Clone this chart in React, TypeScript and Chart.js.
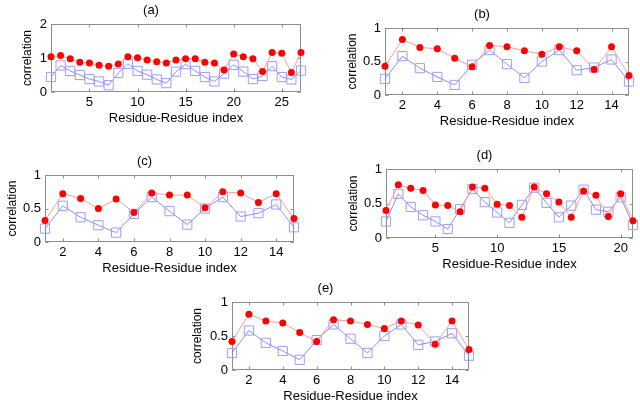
import React, { useEffect, useRef } from "react";
import { Chart, registerables } from "chart.js";

Chart.register(...registerables);

const FONT = "'Liberation Sans', Arial, Helvetica, sans-serif";

// ---- data ----
const indexA = [1, 2, 3, 4, 5, 6, 7, 8, 9, 10, 11, 12, 13, 14, 15, 16, 17, 18, 19, 20, 21, 22, 23, 24, 25, 26, 27];
const redA = [1.04, 1.07, 0.98, 0.875, 0.85, 0.79, 0.76, 0.82, 1.04, 1.01, 0.94, 0.89, 0.85, 0.94, 0.98, 0.98, 0.875, 0.85, 0.65, 1.12, 1.04, 0.98, 0.6, 1.16, 1.14, 0.57, 1.16];
const blueA = [0.44, 0.78, 0.62, 0.5, 0.38, 0.31, 0.2, 0.56, 0.83, 0.62, 0.51, 0.37, 0.26, 0.6, 0.82, 0.62, 0.44, 0.31, 0.54, 0.8, 0.6, 0.38, 0.47, 0.76, 0.44, 0.37, 0.63];

const indexB = [1, 2, 3, 4, 5, 6, 7, 8, 9, 10, 11, 12, 13, 14, 15];
const redB = [0.43, 0.83, 0.71, 0.69, 0.55, 0.42, 0.74, 0.72, 0.66, 0.61, 0.72, 0.66, 0.38, 0.72, 0.29];
const blueB = [0.24, 0.58, 0.4, 0.27, 0.15, 0.45, 0.67, 0.46, 0.255, 0.5, 0.67, 0.37, 0.41, 0.53, 0.2];

const indexC = [1, 2, 3, 4, 5, 6, 7, 8, 9, 10, 11, 12, 13, 14, 15];
const redC = [0.32, 0.72, 0.65, 0.5, 0.64, 0.44, 0.73, 0.7, 0.7, 0.51, 0.75, 0.73, 0.59, 0.72, 0.35];
const blueC = [0.2, 0.54, 0.37, 0.25, 0.14, 0.42, 0.67, 0.46, 0.26, 0.5, 0.67, 0.38, 0.43, 0.56, 0.22];

const indexD = [1, 2, 3, 4, 5, 6, 7, 8, 9, 10, 11, 12, 13, 14, 15, 16, 17, 18, 19, 20, 21];
const redD = [0.4, 0.77, 0.72, 0.69, 0.48, 0.47, 0.38, 0.74, 0.72, 0.49, 0.47, 0.3, 0.74, 0.64, 0.52, 0.3, 0.68, 0.62, 0.31, 0.64, 0.25];
const blueD = [0.24, 0.64, 0.45, 0.33, 0.24, 0.13, 0.42, 0.71, 0.52, 0.37, 0.22, 0.48, 0.73, 0.51, 0.3, 0.47, 0.7, 0.41, 0.38, 0.59, 0.19];

const indexE = [1, 2, 3, 4, 5, 6, 7, 8, 9, 10, 11, 12, 13, 14, 15];
const redE = [0.42, 0.82, 0.72, 0.69, 0.55, 0.42, 0.74, 0.72, 0.67, 0.61, 0.72, 0.66, 0.38, 0.72, 0.3];
const blueE = [0.25, 0.58, 0.4, 0.28, 0.15, 0.44, 0.67, 0.46, 0.25, 0.5, 0.67, 0.37, 0.42, 0.54, 0.21];

const xTicksA = [5, 10, 15, 20, 25];
const xTicksB = [2, 4, 6, 8, 10, 12, 14];
const xTicksD = [5, 10, 15, 20];
const yTicksA = [0, 1, 2];
const yTicksB = [0, 0.5, 1];

const X_TITLE = "Residue-Residue index";
const Y_TITLE = "correlation";

// ---- layout ----
const YW = 50; // y-axis width
const XH = 36; // x-axis height
const TH = 22; // title height
const RP = 6; // right padding

type Box = { L: number; R: number; T: number; B: number };

type PanelProps = {
  title: string;
  idx: number[];
  red: number[];
  blue: number[];
  xTicks: number[];
  yTicks: number[];
  ymax: number;
  box: Box;
  yTitleOff: number;
};

const framePlugin = {
  id: "frameBox",
  beforeDatasetsDraw(chart: any) {
    const { ctx, chartArea: a, scales } = chart;
    ctx.save();
    ctx.strokeStyle = "#8c8c8c";
    ctx.lineWidth = 1;
    const l = Math.round(a.left) + 0.5;
    const r = Math.round(a.right) - 0.5;
    const t = Math.round(a.top) + 0.5;
    const b = Math.round(a.bottom) - 0.5;
    ctx.strokeRect(l, t, r - l, b - t);
    const tl = 3;
    ctx.beginPath();
    for (const tk of scales.x.ticks) {
      const px = Math.round(scales.x.getPixelForValue(tk.value)) + 0.5;
      ctx.moveTo(px, b);
      ctx.lineTo(px, b - tl);
      ctx.moveTo(px, t);
      ctx.lineTo(px, t + tl);
    }
    for (const tk of scales.y.ticks) {
      const py = Math.round(scales.y.getPixelForValue(tk.value)) + 0.5;
      ctx.moveTo(l, py);
      ctx.lineTo(l + tl, py);
      ctx.moveTo(r, py);
      ctx.lineTo(r - tl, py);
    }
    ctx.stroke();
    ctx.restore();
  },
};

function Panel(p: PanelProps) {
  const ref = useRef<HTMLCanvasElement | null>(null);
  const { box } = p;
  const w = YW + (box.R - box.L) + RP;
  const h = TH + (box.B - box.T) + XH;

  useEffect(() => {
    if (!ref.current) return;
    const chart = new Chart(ref.current, {
      type: "line",
      data: {
        datasets: [
          {
            data: p.idx.map((x, i) => ({ x, y: p.red[i] })),
            borderColor: "#ff9c9c",
            borderWidth: 1,
            pointBackgroundColor: "#ff0000",
            pointBorderColor: "#ff0000",
            pointBorderWidth: 0,
            pointRadius: 3.5,
            pointStyle: "circle",
            tension: 0,
            clip: false,
          } as any,
          {
            data: p.idx.map((x, i) => ({ x, y: p.blue[i] })),
            borderColor: "#8c8cf2",
            borderWidth: 1,
            pointBackgroundColor: "rgba(0,0,0,0)",
            pointBorderColor: "#9c9cfa",
            pointBorderWidth: 1,
            pointRadius: 6.5,
            pointStyle: "rect",
            tension: 0,
            clip: false,
          } as any,
        ],
      },
      options: {
        responsive: false,
        animation: false,
        events: [],
        layout: { padding: { left: 0, top: 0, right: RP, bottom: 0 }, autoPadding: false },
        plugins: {
          legend: { display: false },
          tooltip: { enabled: false },
          title: {
            display: true,
            text: p.title,
            color: "#000",
            font: { family: FONT, size: 13, weight: "normal", lineHeight: 1 },
            padding: { top: 2, bottom: 7 },
          },
        },
        scales: {
          x: {
            type: "linear",
            min: p.idx[0],
            max: p.idx[p.idx.length - 1],
            grid: { display: false, drawTicks: false },
            border: { display: false },
            ticks: {
              color: "#000",
              font: { family: FONT, size: 13 },
              padding: 3,
              maxRotation: 0,
              autoSkip: false,
              callback: (v: any) => String(v),
            },
            afterBuildTicks: (s: any) => {
              s.ticks = p.xTicks.map((v) => ({ value: v }));
            },
            afterFit: (s: any) => {
              s.height = XH;
            },
            title: {
              display: true,
              text: X_TITLE,
              color: "#000",
              font: { family: FONT, size: 13, lineHeight: 1.2 },
              padding: { top: 0, bottom: 2.2 },
            },
          },
          y: {
            type: "linear",
            min: 0,
            max: p.ymax,
            grid: { display: false, drawTicks: false },
            border: { display: false },
            ticks: {
              color: "#000",
              font: { family: FONT, size: 13 },
              padding: 4,
              callback: (v: any) => String(v),
            },
            afterBuildTicks: (s: any) => {
              s.ticks = p.yTicks.map((v) => ({ value: v }));
            },
            afterFit: (s: any) => {
              s.width = YW;
            },
            title: {
              display: true,
              text: Y_TITLE,
              color: "#000",
              font: { family: FONT, size: 12, lineHeight: 1.2 },
              padding: { top: YW - p.yTitleOff - 7.2, bottom: 0 },
            },
          },
        },
      } as any,
      plugins: [framePlugin],
    });
    return () => chart.destroy();
  }, []);

  return (
    <canvas
      ref={ref}
      width={w}
      height={h}
      style={{
        position: "absolute",
        left: box.L - YW,
        top: box.T - TH,
        width: w,
        height: h,
      }}
    />
  );
}

export default function App() {
  return (
    <div
      style={{
        position: "absolute",
        left: 0,
        top: 0,
        width: 640,
        height: 406,
        overflow: "hidden",
        background: "#fff",
      }}
    >
      <Panel title="(a)" idx={indexA} red={redA} blue={blueA} xTicks={xTicksA} yTicks={yTicksA} ymax={2}
        box={{ L: 51, R: 301, T: 24, B: 92 }} yTitleOff={23} />
      <Panel title="(b)" idx={indexB} red={redB} blue={blueB} xTicks={xTicksB} yTicks={yTicksB} ymax={1}
        box={{ L: 385, R: 629, T: 28, B: 95 }} yTitleOff={32} />
      <Panel title="(c)" idx={indexC} red={redC} blue={blueC} xTicks={xTicksB} yTicks={yTicksB} ymax={1}
        box={{ L: 45, R: 294, T: 175, B: 242 }} yTitleOff={32} />
      <Panel title="(d)" idx={indexD} red={redD} blue={blueD} xTicks={xTicksD} yTicks={yTicksB} ymax={1}
        box={{ L: 386, R: 633, T: 169, B: 238 }} yTitleOff={32} />
      <Panel title="(e)" idx={indexE} red={redE} blue={blueE} xTicks={xTicksB} yTicks={yTicksB} ymax={1}
        box={{ L: 232, R: 469, T: 302, B: 370 }} yTitleOff={34} />
    </div>
  );
}
